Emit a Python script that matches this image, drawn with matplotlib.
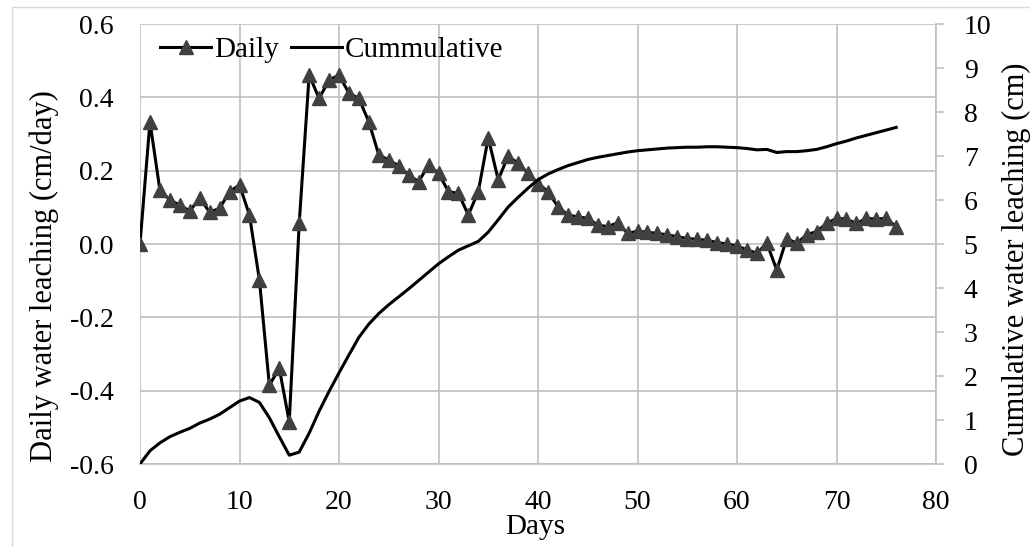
import matplotlib
matplotlib.use('Agg')
import matplotlib.pyplot as plt
from matplotlib.patches import Rectangle
import numpy as np

plt.rcParams['font.family'] = ['Liberation Serif', 'DejaVu Serif']
plt.rcParams['axes.unicode_minus'] = False

# Daily leaching (cm/day), one value per day 0..76
days = list(range(0, 77))
daily = [0.0, 0.333, 0.147, 0.120, 0.106, 0.090, 0.125, 0.087, 0.097, 0.143,
         0.161, 0.079, -0.098, -0.385, -0.339, -0.485, 0.056, 0.461, 0.397, 0.447,
         0.461, 0.411, 0.397, 0.333, 0.243, 0.229, 0.213, 0.188, 0.170, 0.215,
         0.193, 0.143, 0.138, 0.079, 0.143, 0.290, 0.175, 0.240, 0.220, 0.193,
         0.165, 0.143, 0.102, 0.079, 0.074, 0.070, 0.052, 0.047, 0.058, 0.029,
         0.035, 0.032, 0.029, 0.025, 0.020, 0.015, 0.013, 0.010, 0.004, 0.000,
         -0.005, -0.016, -0.025, 0.002, -0.071, 0.015, 0.002, 0.025, 0.034, 0.056,
         0.070, 0.068, 0.056, 0.070, 0.068, 0.070, 0.047]

# Cumulative leaching (cm)
cumulative = [0.0, 0.30, 0.48, 0.62, 0.72, 0.81, 0.93, 1.02, 1.13, 1.28,
              1.43, 1.51, 1.40, 1.05, 0.62, 0.20, 0.27, 0.70, 1.20, 1.65,
              2.07, 2.48, 2.88, 3.18, 3.42, 3.62, 3.80, 3.98, 4.17, 4.36,
              4.55, 4.71, 4.86, 4.96, 5.06, 5.27, 5.55, 5.84, 6.06, 6.27,
              6.46, 6.59, 6.69, 6.78, 6.85, 6.92, 6.97, 7.01, 7.05, 7.09,
              7.12, 7.14, 7.16, 7.18, 7.19, 7.20, 7.20, 7.21, 7.21, 7.20,
              7.19, 7.17, 7.14, 7.15, 7.08, 7.10, 7.10, 7.12, 7.15, 7.21,
              7.28, 7.34, 7.41, 7.47, 7.53, 7.59, 7.65]

x_ticks = list(range(0, 81, 10))
left_ticks = [-0.6, -0.4, -0.2, 0.0, 0.2, 0.4, 0.6]
right_ticks = list(range(0, 11))

W, H = 1030, 547
fig = plt.figure(figsize=(W / 100, H / 100), dpi=100)

# light outer chart border
fig.patches.append(Rectangle((12 / W, -0.1), 1.2, 1 - 7 / H + 0.1, transform=fig.transFigure,
                             fill=False, edgecolor='#d9d9d9', lw=1))

ax = fig.add_axes([140 / W, 1 - 464 / H, (936 - 140) / W, (464 - 24) / H])
grid_c = '#bfbfbf'

ax.plot(days, daily, color='black', lw=2.2, marker='^', ms=10,
        mfc='#404040', mec='#404040', label='Daily', zorder=3)
ax.set_xlim(0, 80)
ax.set_ylim(-0.6, 0.6)
ax.set_xticks(x_ticks)
ax.set_yticks(left_ticks)
ax.set_yticklabels(['%.1f' % v for v in left_ticks])
ax.grid(True, color=grid_c, lw=1.2)
ax.set_axisbelow(True)
for s in ['left', 'top', 'right']:
    ax.spines[s].set_visible(False)
ax.spines['bottom'].set_color(grid_c)
ax.spines['bottom'].set_linewidth(1.2)
ax.tick_params(axis='both', length=0, labelsize=20)
ax.tick_params(axis='x', pad=19)
ax.tick_params(axis='y', pad=19)

ax2 = ax.twinx()
ax2.plot(days, cumulative, color='black', lw=2.2, label='Cummulative')
ax2.set_ylim(0, 10)
ax2.set_yticks(right_ticks)
for s in ['left', 'top', 'bottom']:
    ax2.spines[s].set_visible(False)
ax2.spines['right'].set_color(grid_c)
ax2.spines['right'].set_linewidth(1.2)
ax2.tick_params(axis='y', direction='out', length=6, width=1.2, color=grid_c,
                labelsize=20, pad=14)

fig.text(44 / W, 1 - 276 / H, 'Daily water leaching (cm/day)', rotation=90,
         ha='center', va='center', fontsize=22)
fig.text(1016 / W, 1 - 259 / H, 'Cumulative water leaching (cm)', rotation=90,
         ha='center', va='center', fontsize=22)
fig.text(535 / W, 1 - 527 / H, 'Days', ha='center', va='center', fontsize=21)

h1, l1 = ax.get_legend_handles_labels()
h2, l2 = ax2.get_legend_handles_labels()
ax2.legend(h1 + h2, l1 + l2, ncol=2, frameon=False, fontsize=21,
           loc='center left', bbox_to_anchor=(160 / W, 1 - 50 / H),
           bbox_transform=fig.transFigure, borderpad=0, borderaxespad=0,
           handlelength=1.75, handletextpad=0.1, columnspacing=0.4)

fig.savefig('out.png', dpi=100)
